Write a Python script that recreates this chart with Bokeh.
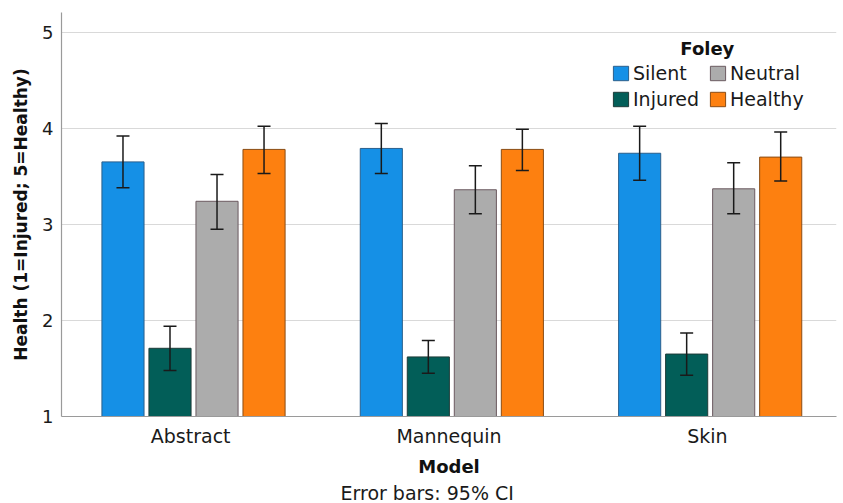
from bokeh.plotting import figure
from bokeh.models import (ColumnDataSource, FactorRange, FixedTicker, Legend, LegendItem,
                          Title, Label, Range1d)
from bokeh.transform import dodge
from bokeh.embed import file_html
from bokeh.resources import INLINE

# ---- data ----
models = ["Abstract", "Mannequin", "Skin"]
series = ["Silent", "Injured", "Neutral", "Healthy"]

silent = [3.65, 3.79, 3.74]
silent_lo = [3.38, 3.53, 3.46]
silent_hi = [3.92, 4.05, 4.02]

injured = [1.71, 1.62, 1.65]
injured_lo = [1.48, 1.45, 1.43]
injured_hi = [1.94, 1.79, 1.87]

neutral = [3.24, 3.36, 3.37]
neutral_lo = [2.95, 3.11, 3.11]
neutral_hi = [3.52, 3.61, 3.64]

healthy = [3.78, 3.78, 3.70]
healthy_lo = [3.53, 3.56, 3.45]
healthy_hi = [4.02, 3.99, 3.96]

y_ticks = [1, 2, 3, 4, 5]

values = {"Silent": silent, "Injured": injured, "Neutral": neutral, "Healthy": healthy}
lows = {"Silent": silent_lo, "Injured": injured_lo, "Neutral": neutral_lo, "Healthy": healthy_lo}
highs = {"Silent": silent_hi, "Injured": injured_hi, "Neutral": neutral_hi, "Healthy": healthy_hi}

fills = {"Silent": "#1590e6", "Injured": "#025e58", "Neutral": "#acacac", "Healthy": "#fd8010"}
outlines = {"Silent": "#2a5f8c", "Injured": "#1d3b38", "Neutral": "#6b5a60", "Healthy": "#8a4c14"}
offsets = {"Silent": -0.262, "Injured": -0.080, "Neutral": 0.102, "Healthy": 0.284}

FONT = "DejaVu Sans"

p = figure(x_range=FactorRange(*models, range_padding=0), y_range=Range1d(1, 5.205),
           width=843, height=503, output_backend="svg", toolbar_location=None,
           min_border_left=61, min_border_right=7, min_border_top=12, min_border_bottom=87)
p.outline_line_color = None
p.background_fill_color = "white"

renderers = {}
for s in series:
    src = ColumnDataSource(dict(model=models, v=values[s], lo=lows[s], hi=highs[s]))
    r = p.vbar(x=dodge("model", offsets[s], range=p.x_range), top="v", bottom=1, width=0.163,
               source=src, fill_color=fills[s], line_color=outlines[s], line_width=1)
    renderers[s] = r
    p.segment(x0=dodge("model", offsets[s], range=p.x_range), y0="lo",
              x1=dodge("model", offsets[s], range=p.x_range), y1="hi",
              source=src, line_color="#1a1a1a", line_width=1.5)
    p.scatter(x=dodge("model", offsets[s], range=p.x_range), y="lo", source=src, marker="dash",
              size=13, line_color="#1a1a1a", line_width=1.5)
    p.scatter(x=dodge("model", offsets[s], range=p.x_range), y="hi", source=src, marker="dash",
              size=13, line_color="#1a1a1a", line_width=1.5)

# axes
p.yaxis.ticker = FixedTicker(ticks=y_ticks)
p.ygrid.ticker = FixedTicker(ticks=y_ticks)
p.xgrid.grid_line_color = None
p.ygrid.grid_line_color = "#d9d9d9"
p.ygrid.grid_line_width = 1.2

for ax in (p.xaxis[0], p.yaxis[0]):
    ax.major_tick_in = 0
    ax.major_tick_out = 0
    ax.minor_tick_in = 0
    ax.minor_tick_out = 0
    ax.axis_line_color = "#9a9a9a"
    ax.axis_line_width = 1.2
    ax.major_label_text_font = FONT
    ax.major_label_text_color = "#1a1a1a"
    ax.axis_label_text_font = FONT
    ax.axis_label_text_font_style = "bold"
    ax.axis_label_text_color = "#111111"

p.yaxis.major_label_text_font_size = "18px"
p.xaxis.major_label_text_font_size = "19px"
p.yaxis.axis_label = "Health (1=Injured; 5=Healthy)"
p.yaxis.axis_label_text_font_size = "17px"
p.yaxis.major_label_standoff = 8
p.yaxis.axis_label_standoff = 8
p.xaxis.axis_label = "Model"
p.xaxis.axis_label_text_font_size = "18px"
p.xaxis.major_label_standoff = 8
p.xaxis.axis_label_standoff = 6

p.add_layout(Title(text="Error bars: 95% CI", align="left", offset=279, standoff=0,
                   text_font=FONT, text_font_size="19px", text_font_style="normal",
                   text_color="#1a1a1a"), "below")

# legend
order = ["Silent", "Neutral", "Injured", "Healthy"]
legend = Legend(items=[LegendItem(label=s, renderers=[renderers[s]]) for s in order],
                orientation="horizontal", ncols=2,
                location=(550, 306), padding=0, margin=0, spacing=4,
                glyph_width=19, glyph_height=18, label_height=18, label_width=71,
                label_standoff=3,
                label_text_font=FONT, label_text_font_size="19px", label_text_color="#1a1a1a",
                border_line_color=None, background_fill_alpha=0)
p.add_layout(legend, "center")

p.add_layout(Label(x=2.5, y=5, x_offset=0, y_offset=-16, text="Foley",
                   text_align="center", text_baseline="middle", text_font=FONT,
                   text_font_size="18px", text_font_style="bold", text_color="#111111"))

open("out.html", "w").write(file_html(p, INLINE))
